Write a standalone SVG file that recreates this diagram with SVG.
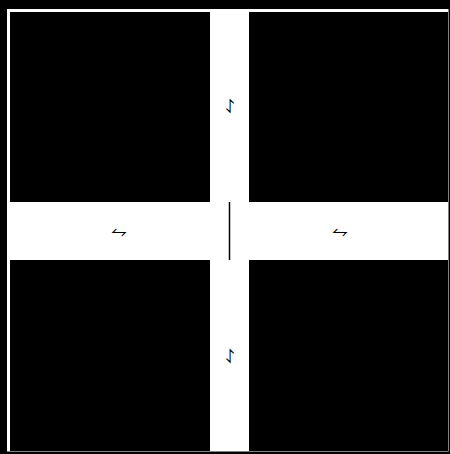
<svg xmlns="http://www.w3.org/2000/svg" width="450" height="454" viewBox="0 0 450 454">
<style>
.room{fill:#000}
.lbl{font-family:"DejaVu Sans",sans-serif;font-size:20px;fill:#000;text-anchor:middle}
.wall{stroke:#000;stroke-width:1.5;fill:none}
</style>
<rect x="0" y="0" width="450" height="454" fill="#000"/>
<rect x="7" y="9" width="441.5" height="442.5" fill="#fff"/>
<g id="room-tl"><rect class="room" x="10" y="12" width="200" height="190"/></g>
<g id="room-tr"><rect class="room" x="249" y="12" width="199" height="190"/></g>
<g id="room-bl"><rect class="room" x="10" y="260" width="200" height="191"/></g>
<g id="room-br"><rect class="room" x="249" y="260" width="199" height="191"/></g>
<g id="corridor-n"><text class="lbl" x="229" y="113">⥌</text></g>
<g id="corridor-s"><text class="lbl" x="229" y="363">⥌</text></g>
<g id="corridor-w"><text class="lbl" x="119" y="237.5">⥊</text></g>
<g id="corridor-e"><text class="lbl" x="340" y="237.5">⥊</text></g>
<g id="connectors"><line class="wall" x1="229.5" y1="202" x2="229.5" y2="260"/></g>
</svg>
